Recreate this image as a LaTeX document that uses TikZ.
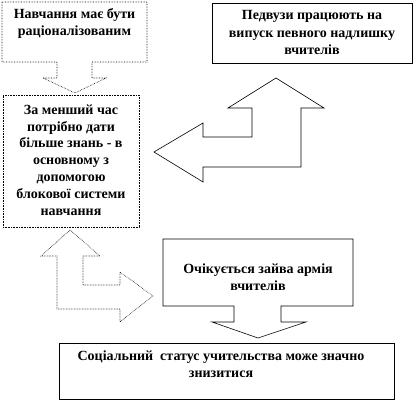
\documentclass[tikz,border=0pt]{standalone}
\usepackage{fontspec}
\setmainfont{Liberation Serif}
\begin{document}
\begin{tikzpicture}[x=1pt,y=-1pt,
  txt/.style={font=\fontsize{14}{17.5}\selectfont\bfseries, align=center, inner sep=0pt},
  dotline/.style={line width=0.6pt, densely dotted},
  solidline/.style={line width=0.6pt}]
\useasboundingbox (0,0) rectangle (416,403);
% Box 1 callout
\draw[dotline] (2,2) -- (147,2) -- (147,62) -- (92,62) -- (92,78) -- (106,78) -- (75,93) -- (43,78) -- (57,78) -- (57,62) -- (2,62) -- cycle;
\node[txt] (t1) at (74.5,23.5) {Навчання має бути\\раціоналізованим};
% Box 2
\node[draw, solidline, minimum width=200pt, minimum height=60pt, inner sep=0pt] (b2) at (312,33) {};
\node[txt] (t2) at (312,32.5) {Педвузи працюють на\\випуск певного надлишку\\вчителів};
% Box 3
\node[draw, dotline, minimum width=136pt, minimum height=132pt, inner sep=0pt] (b3) at (71,161) {};
\node[txt, font=\fontsize{14}{16.8}\selectfont\bfseries] (t3) at (71,160) {За менший час\\потрібно дати\\більше знань - в\\основному з\\допомогою\\блокової системи\\навчання};
% Bent arrow 1
\draw[solidline] (154,152) -- (203,123) -- (203,137) -- (252,137) -- (252,108) -- (228,108) -- (276,78) -- (324,108) -- (301,108) -- (301,167) -- (203,167) -- (203,182) -- cycle;
% Bent arrow 2
\draw[dotline] (70,230) -- (100,256) -- (83,256) -- (83,285) -- (120,285) -- (120,272) -- (153,296) -- (120,322) -- (120,309) -- (57,309) -- (57,256) -- (41,256) -- cycle;
% Box 4 callout
\draw[solidline] (163,239) -- (353,239) -- (353,306) -- (281,306) -- (281,322) -- (306,322) -- (258,338) -- (212,322) -- (234,322) -- (234,306) -- (163,306) -- cycle;
\node[txt] (t4) at (258,277) {Очікується зайва армія\\вчителів};
% Box 5
\node[draw, solidline, minimum width=335pt, minimum height=56pt, inner sep=0pt] (b5) at (226.5,371) {};
\node[txt] (t5) at (221,364) {Соціальний\ \ статус учительства може значно\\знизитися};
\end{tikzpicture}
\end{document}
